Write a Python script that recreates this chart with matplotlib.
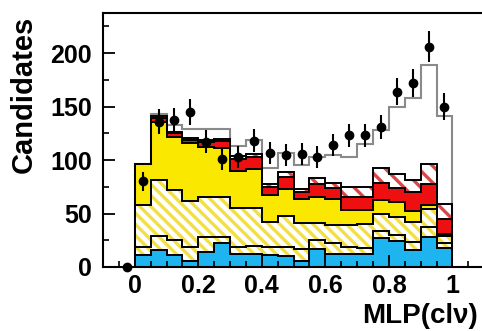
import numpy as np
import matplotlib.pyplot as plt
from matplotlib.ticker import MultipleLocator, FormatStrFormatter

plt.rcParams['font.family'] = ['Liberation Sans', 'DejaVu Sans']
plt.rcParams['font.weight'] = 'bold'
plt.rcParams['hatch.linewidth'] = 2.4

# 20 bins of MLP output, 0 -> 1
edges = np.linspace(0, 1, 21)

# stacked components (counts per bin, bottom to top)
comp_cyan = [11, 16, 11, 6, 14, 22, 12, 12, 11, 10, 6, 17, 12, 12, 12, 27, 24, 16, 28, 18]
comp_hatch_low = [8, 13, 14, 13, 14, 6, 7, 8, 8, 9, 11, 8, 10, 7, 6, 7, 6, 7, 9, 4]
comp_hatch_big = [39, 52, 47, 43, 37, 37, 36, 35, 23, 29, 24, 16, 17, 20, 22, 16, 17, 19, 17, 7]
comp_yellow = [38, 55, 50, 54, 47, 46, 35, 37, 25, 25, 23, 24, 25, 14, 13, 13, 14, 10, 4, 2]
comp_red = [0, 3, 3, 3, 5, 7, 11, 11, 8, 11, 6, 13, 10, 12, 12, 16, 13, 18, 20, 14]
comp_red_hatch = [0, 2, 1, 2, 2, 2, 3, 3, 3, 5, 3, 5, 5, 10, 10, 14, 13, 11, 18, 14]
comp_signal = [0, 2, 7, 8, 10, 9, 9, 13, 15, 18, 22, 20, 26, 28, 40, 35, 63, 77, 93, 82]

# data points (bin centres incl. one underflow bin at -0.025)
data_x = [-0.025, 0.025, 0.075, 0.125, 0.175, 0.225, 0.275, 0.325, 0.375, 0.425, 0.475,
          0.525, 0.575, 0.625, 0.675, 0.725, 0.775, 0.825, 0.875, 0.925, 0.975]
data_y = [0, 80, 136, 137, 145, 117, 101, 103, 118, 107, 105,
          106, 103, 114, 123, 123, 131, 164, 172, 206, 150]

layers = [comp_cyan, comp_hatch_low, comp_hatch_big, comp_yellow,
          comp_red, comp_red_hatch, comp_signal]
tops = np.cumsum(np.array(layers, dtype=float), axis=0)
bottoms = np.vstack([np.zeros(len(edges) - 1), tops[:-1]])

# (facecolor, hatch colour, hatch)
styles = [
    ('#1db4ef', None, None),
    ('white', '#f2df45', '\\\\\\'),
    ('white', '#f2df45', '\\\\\\'),
    ('#fbe800', None, None),
    ('#ee1010', None, None),
    ('white', '#d84848', '\\\\'),
    ('white', None, None),
]

fig = plt.figure(figsize=(4.82, 3.31), dpi=100)
ax = fig.add_axes([103 / 482, 64 / 331, 381.2 / 482, 254 / 331])

for (fc, hc, hatch), lo, hi in zip(styles, bottoms, tops):
    if hatch:
        ax.stairs(hi, edges, baseline=lo, fill=True, facecolor=fc,
                  edgecolor=hc, hatch=hatch, linewidth=0)
    else:
        ax.stairs(hi, edges, baseline=lo, fill=True, facecolor=fc, linewidth=0)

# total prediction (grey)
ax.stairs(tops[-1], edges, baseline=0, color='#8a8a8a', linewidth=1.5)

# black outlines of the background layers
for hi in tops[:-1]:
    ax.stairs(hi, edges, baseline=0, color='black', linewidth=1.4)

ax.errorbar(data_x, data_y, yerr=np.sqrt(data_y), fmt='o', color='black',
            ms=6, elinewidth=1.5, capsize=0, clip_on=False, zorder=5)

ax.set_xlim(-0.1, 1.1)
ax.set_ylim(0, 237.5)

for s in ax.spines.values():
    s.set_linewidth(1.5)

ax.xaxis.set_major_locator(MultipleLocator(0.2))
ax.xaxis.set_minor_locator(MultipleLocator(0.05))
ax.yaxis.set_major_locator(MultipleLocator(50))
ax.yaxis.set_minor_locator(MultipleLocator(25))
ax.xaxis.set_major_formatter(FormatStrFormatter('%g'))
ax.tick_params(axis='both', which='major', direction='in', length=8.5, width=1.3,
               labelsize=18)
ax.tick_params(axis='both', which='minor', direction='in', length=4.3, width=1.2)
ax.tick_params(axis='x', pad=5)
ax.tick_params(axis='y', pad=8)

ax.set_ylabel('Candidates', fontsize=21, fontweight='bold')
ax.yaxis.set_label_coords(-0.172, 0.68)
fig.text(478 / 482, 0.024, 'MLP(cl\u03bd)', ha='right', va='baseline',
         fontsize=20, fontweight='bold')

fig.savefig('out.png', dpi=100)
